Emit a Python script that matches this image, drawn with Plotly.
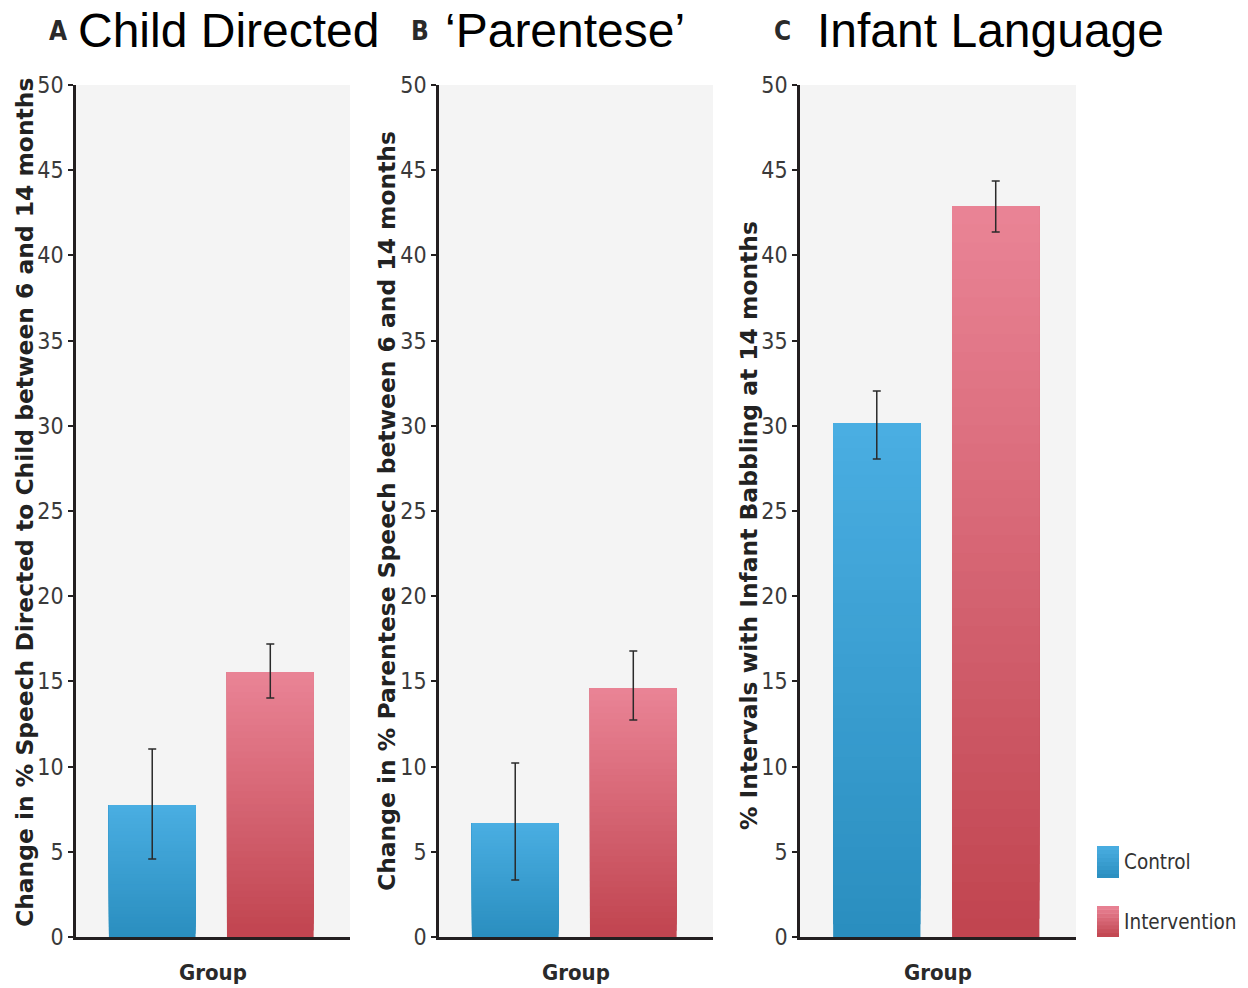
import plotly.graph_objects as go

# ---------------- data ----------------
groups = ["Control", "Intervention"]
panel_letters = ["A", "B", "C"]
panel_titles = ["Child Directed", "\u2018Parentese\u2019", "Infant Language"]
y_titles = [
    "Change in % Speech Directed to Child between 6 and 14 months",
    "Change in % Parentese Speech between 6 and 14 months",
    "% Intervals with Infant Babbling at 14 months",
]
child_directed = [7.75, 15.55]
child_directed_err_plus = [3.28, 1.64]
child_directed_err_minus = [3.17, 1.52]
parentese = [6.69, 14.61]
parentese_err_plus = [3.52, 2.17]
parentese_err_minus = [3.34, 1.88]
infant_babbling = [30.16, 42.90]
infant_babbling_err_plus = [1.88, 1.47]
infant_babbling_err_minus = [2.11, 1.53]
y_ticks = [0, 5, 10, 15, 20, 25, 30, 35, 40, 45, 50]

values = [child_directed, parentese, infant_babbling]
err_plus = [child_directed_err_plus, parentese_err_plus, infant_babbling_err_plus]
err_minus = [child_directed_err_minus, parentese_err_minus, infant_babbling_err_minus]

# ---------------- style ----------------
W, H = 1248, 988
top_cols = [(74, 174, 226), (234, 132, 150)]
bot_cols = [(42, 142, 191), (192, 68, 79)]
NARROW = "DejaVu Sans Condensed"
dark = "#231f20"


def mix(c0, c1, t):
    return "rgb(%d,%d,%d)" % tuple(round(a + (b - a) * t) for a, b in zip(c0, c1))


def px(x):
    return x / W


def py(y):
    return 1 - y / H


x_domains = [(76, 350), (439, 713), (800, 1076)]
y_dom = [py(937), py(85)]

fig = go.Figure()
N = 40
xpos = [0, 1]
for i in range(3):
    xa = "x" if i == 0 else "x%d" % (i + 1)
    ya = "y" if i == 0 else "y%d" % (i + 1)
    vals = values[i]
    for k in range(N):
        f = k / N
        cols = [mix(bot_cols[j], top_cols[j], f + 0.5 / N) for j in range(2)]
        fig.add_trace(go.Bar(
            x=xpos, y=[v * (1 - f) for v in vals], base=[v * f for v in vals],
            width=0.734, marker=dict(color=cols, line=dict(width=0)),
            xaxis=xa, yaxis=ya, showlegend=False, hoverinfo="skip"))
    fig.add_trace(go.Scatter(
        x=xpos, y=vals, mode="markers", marker=dict(size=1, opacity=0),
        error_y=dict(type="data", symmetric=False, array=err_plus[i],
                     arrayminus=err_minus[i], color="#2a2a2a", thickness=1.5, width=4),
        xaxis=xa, yaxis=ya, showlegend=False, hoverinfo="skip"))

layout = dict(
    width=W, height=H, margin=dict(l=0, r=0, t=0, b=0, autoexpand=False),
    paper_bgcolor="white", barmode="overlay", showlegend=False,
)
annotations = []
shapes = []
title_pos = [  # letter center x, title left x
    (58, 77), (420, 444), (782, 816)]
ytitle_pos = [(25, 503), (387, 511), (749, 526)]
for i in range(3):
    sx = "" if i == 0 else str(i + 1)
    x0, x1 = x_domains[i]
    layout["xaxis" + sx] = dict(
        domain=[px(x0), px(x1)], range=[-0.6456, 1.675], showticklabels=False,
        showgrid=False, zeroline=False, showline=True, linewidth=3, linecolor=dark,
        ticks="", anchor="y" + sx, fixedrange=True, automargin=False)
    layout["yaxis" + sx] = dict(
        domain=y_dom, range=[0, 50], tickvals=y_ticks, showgrid=False, zeroline=False,
        showline=True, linewidth=2.5, linecolor=dark, ticks="outside", ticklen=5,
        tickwidth=2, tickcolor=dark, anchor="x" + sx, automargin=False,
        tickfont=dict(family=NARROW, size=23, color="#3a3a3a"), fixedrange=True)
    shapes.append(dict(type="rect", xref="paper", yref="paper", x0=px(x0), x1=px(x1),
                       y0=y_dom[0], y1=y_dom[1], fillcolor="#f4f4f4", line=dict(width=0),
                       layer="below"))
    lx, tx = title_pos[i]
    annotations.append(dict(text="<b>%s</b>" % panel_letters[i], x=px(lx), y=py(31),
                            xref="paper", yref="paper", showarrow=False,
                            xanchor="center", yanchor="middle",
                            font=dict(family=NARROW, size=26, color="#2a2a2a")))
    annotations.append(dict(text=panel_titles[i], x=px(tx), y=py(30),
                            xref="paper", yref="paper", showarrow=False,
                            xanchor="left", yanchor="middle", borderpad=0,
                            font=dict(family="Liberation Sans", size=48, color="black")))
    annotations.append(dict(text="<b>Group</b>", x=px((x0 + x1) / 2), y=py(972),
                            xref="paper", yref="paper", showarrow=False,
                            xanchor="center", yanchor="middle",
                            font=dict(family=NARROW, size=22, color="#2a2a2a")))
    ytx, yty = ytitle_pos[i]
    annotations.append(dict(text="<b>%s</b>" % y_titles[i], x=px(ytx), y=py(yty),
                            xref="paper", yref="paper", showarrow=False, textangle=-90,
                            xanchor="center", yanchor="middle",
                            font=dict(family="DejaVu Sans", size=23.4, color="#222")))

# legend (manual, gradient swatches)
leg_rows = [(846, 878), (906, 937)]
for j, g in enumerate(groups):
    ya0, ya1 = leg_rows[j]
    M = 8
    for k in range(M):
        yy0 = ya1 - (ya1 - ya0) * k / M
        yy1 = ya1 - (ya1 - ya0) * (k + 1) / M - 0.5
        shapes.append(dict(type="rect", xref="paper", yref="paper", x0=px(1097), x1=px(1119),
                           y0=py(yy0), y1=py(max(yy1, ya0)),
                           fillcolor=mix(bot_cols[j], top_cols[j], (k + 0.5) / M),
                           line=dict(width=0)))
    annotations.append(dict(text=g, x=px(1122), y=py((ya0 + ya1) / 2), xref="paper", yref="paper",
                            showarrow=False, xanchor="left", yanchor="middle",
                            font=dict(family=NARROW, size=20.5, color="#333")))

layout["annotations"] = annotations
layout["shapes"] = shapes
fig.update_layout(**layout)
fig.write_html("out.html", config={"displayModeBar": False},
               post_script="document.body.style.margin='0px';document.body.style.overflow='hidden';")
